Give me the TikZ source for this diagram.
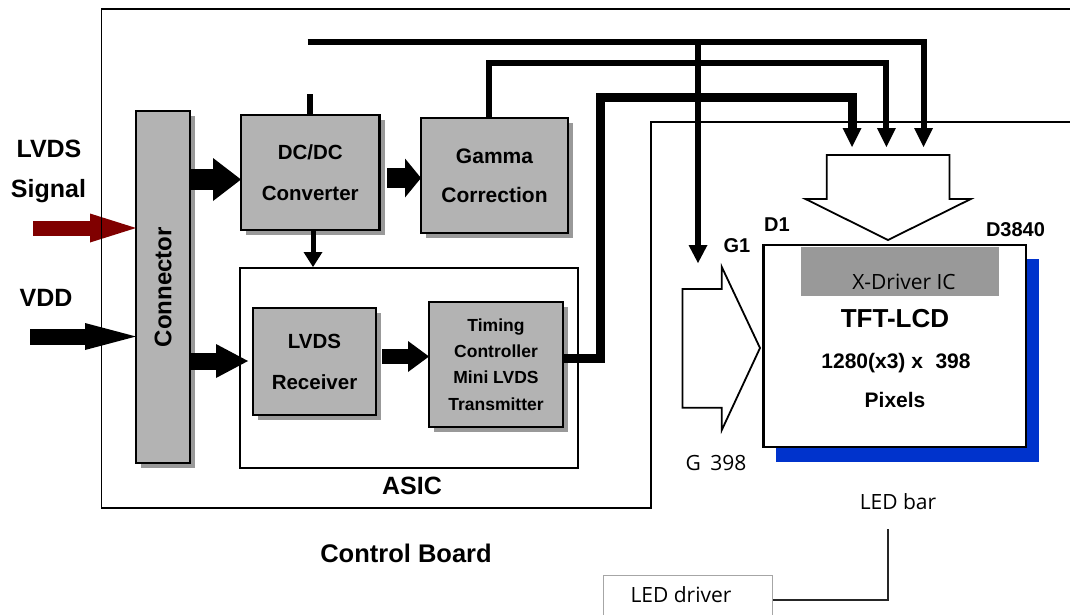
\documentclass[tikz,border=0pt]{standalone}
\usepackage{fontspec}
\setmainfont{Liberation Sans}
\newfontfamily\osf{Open Sans}
\usetikzlibrary{arrows.meta,shadows}
\definecolor{boxgray}{HTML}{B3B3B3}
\definecolor{drvgray}{HTML}{999999}
\definecolor{lcdblue}{HTML}{0033CC}
\definecolor{sigred}{HTML}{800000}
\newcommand\fsz[2]{\fontsize{#1}{#2}\selectfont}
\begin{document}
\begin{tikzpicture}[x=1pt,y=-1pt,
  gbox/.style={draw, line width=2.2pt, fill=boxgray, inner sep=0pt, outer sep=0pt, align=center,
     drop shadow={shadow xshift=5pt, shadow yshift=-5pt, fill=black, opacity=0.4}},
  fat/.style n args={3}{line width=#1, -{Triangle[length=#2,width=#3,line width=0pt]}},
  sig/.style={line width=6pt, -{Triangle[length=19pt,width=19pt,line width=0pt]}},
  hollow/.style={draw, line width=1.8pt, line join=miter},
  lbl/.style={font=\bfseries\fsz{25}{30}, inner sep=0pt, text depth=0pt},
  lbls/.style={font=\bfseries\fsz{20}{24}, inner sep=0pt, text depth=0pt},
  osl/.style={font=\osf\fsz{21}{25}, inner sep=0pt, text depth=0pt}]
\useasboundingbox (0,0) rectangle (1070,614);
\clip (0,0) rectangle (1070,614);

% gray boxes
\node[gbox, minimum width=54pt, minimum height=352pt] (conn) at (163,287) {};
\node[lbl, font=\bfseries\fsz{24}{28}, rotate=90] (connt) at (conn.center) {Connector};
\node[gbox, minimum width=138.5pt, minimum height=115pt, font=\bfseries\fsz{20.5}{41}] (dcdc) at (310.25,172.5) {DC/DC\\Converter};
\node[gbox, minimum width=147pt, minimum height=115pt, font=\bfseries\fsz{21}{39}] (gamma) at (494.5,175.5) {Gamma\\Correction};
\node[draw, line width=2pt, inner sep=0pt, minimum width=338pt, minimum height=200pt] (asic) at (409,368) {};
\node[gbox, minimum width=123pt, minimum height=107pt, font=\bfseries\fsz{20.5}{41}] (lvds) at (314.5,361.5) {LVDS\\Receiver};
\node[gbox, minimum width=134pt, minimum height=125pt, font=\bfseries\fsz{17.5}{26.3}] (tcon) at (496,364.5) {Timing\\Controller\\Mini LVDS\\Transmitter};

% input arrows
\coordinate (lvdsin) at (33,228);
\coordinate (vddin) at (30,336.5);
\draw[fat={15pt}{46pt}{29pt}, draw=sigred, fill=sigred] (lvdsin) -- (conn.west|-lvdsin);
\draw[fat={16pt}{51pt}{27pt}] (vddin) -- (conn.west|-vddin);

% control board outline
\draw[line width=1.6pt] (1070,9) -- (101.5,9) -- (101.5,508) -- (651,508) -- (651,122) -- (1070,122);

% block arrows
\draw[fat={21pt}{28pt}{43pt}] (conn.east|-0,179.5) -- (dcdc.west|-0,179.5);
\draw[fat={20pt}{16pt}{39pt}, shorten <=7.5pt] (dcdc.east|-0,178) -- (gamma.west|-0,178);
\draw[fat={17pt}{32pt}{34pt}, shorten >=5pt] (conn.east|-0,361) -- (lvds.west|-0,361);
\draw[fat={15pt}{21pt}{31pt}, shorten <=6pt] (lvds.east|-0,356.5) -- (tcon.west|-0,356.5);
\draw[line width=5pt, -{Triangle[length=15pt,width=19pt,line width=0pt]}] (dcdc.south-|313,0) -- (asic.north-|313,0);

% signal lines
\coordinate (topstart) at (307.5,41.7);
\coordinate (stub) at (310,94);
\coordinate (gup) at (489,63);
\coordinate (tup) at (600.6,97);
\coordinate (dtip1) at (852,147);
\coordinate (dtip2) at (886.4,147);
\coordinate (dtip3) at (923.6,147);
\coordinate (gtip) at (698,263);
\draw[line width=6pt] (stub) -- (stub|-dcdc.north);
\draw[sig] (topstart) -| (dtip3);
\draw[sig, -{Triangle[length=18pt,width=19pt,line width=0pt]}] (gtip|-topstart) -- (gtip);
\draw[sig] (gup|-gamma.north) -- (gup) -| (dtip2);
\draw[sig, line width=9pt] (tcon.east|-0,358.6) -| (tup) -| (dtip1);

% hollow arrows
\draw[hollow] (826.8,155) -- (949.4,155) -- (949.4,199) -- (970.8,199) -- (888,240) -- (805.5,199) -- (826.8,199) -- cycle;
\draw[hollow] (682.5,289) -- (721.8,289) -- (721.8,267) -- (760,348) -- (721.8,430) -- (721.8,407.7) -- (682.5,407.7) -- cycle;

% LCD panel
\fill[lcdblue] (776,259) rectangle (1039,462);
\node[draw, line width=2.5pt, fill=white, inner sep=0pt, minimum width=262.5pt, minimum height=202pt] (lcd) at (894.75,346) {};
\node[fill=drvgray, inner sep=0pt, minimum width=198pt, minimum height=49pt] (xdrv) at (900,271.5) {};
\node[osl] (xdrvt) at (904,282) {X-Driver IC};
\node[lbl, font=\bfseries\fsz{26}{30}] (tft) at (895,318.5) {TFT-LCD};
\node[lbl, font=\bfseries\fsz{21}{25}] (res) at (896,361) {1280(x3) x\hspace{0.6em}398};
\node[lbl, font=\bfseries\fsz{21}{25}] (pix) at (895,400) {Pixels};

% labels
\node[lbl] (t1) at (49,149) {LVDS};
\node[lbl] (t2) at (48.5,188.5) {Signal};
\node[lbl] (t3) at (46,297.5) {VDD};
\node[lbl] (t4) at (412,486) {ASIC};
\node[lbl, font=\bfseries\fsz{25.5}{30}] (t5) at (406,553) {Control Board};
\node[lbls] (d1) at (777,225) {D1};
\node[lbls] (d2) at (1015.5,230) {D3840};
\node[lbls] (g1) at (737,246) {G1};
\node[osl] (g2) at (716,463) {G\hspace{0.45em}398};

% LED
\node[osl] (ledbart) at (898,501.5) {LED bar};
\coordinate (ledbar) at (888,529);
\node[draw=black!35, line width=1pt, inner sep=0pt, minimum width=169pt, minimum height=70pt] (leddrv) at (687.5,610) {};
\node[osl] (leddrvt) at (681,595) {LED driver};
\draw[line width=1.5pt, black!85] (ledbar) |- (leddrv.east|-0,600);
\end{tikzpicture}
\end{document}
